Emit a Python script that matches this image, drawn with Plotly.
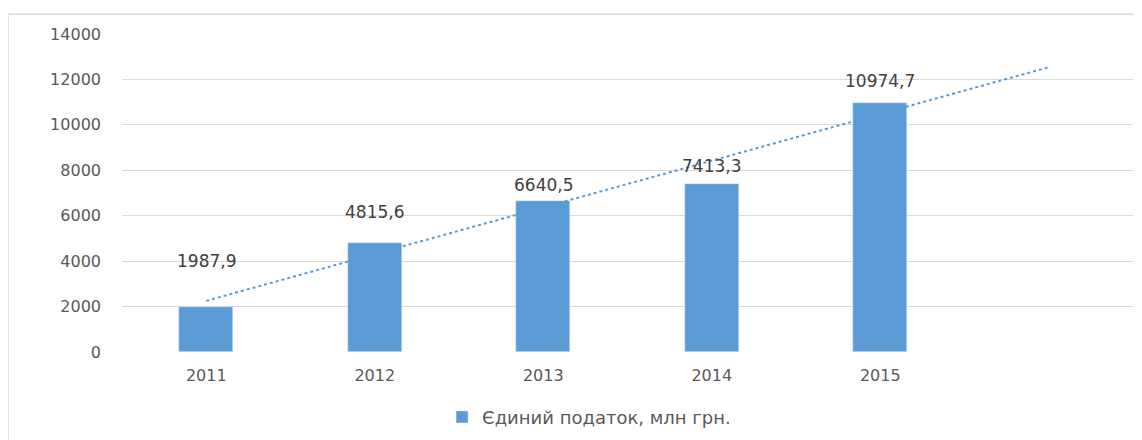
import numpy as np
import plotly.graph_objects as go

years = [2011, 2012, 2013, 2014, 2015]
values = [1987.9, 4815.6, 6640.5, 7413.3, 10974.7]
labels = ["1987,9", "4815,6", "6640,5", "7413,3", "10974,7"]
series_name = "Єдиний податок, млн грн."
y_ticks = [0, 2000, 4000, 6000, 8000, 10000, 12000, 14000]

# linear trend, forecast one period forward
coef = np.polyfit(years, values, 1)
trend_x = [years[0], years[-1] + 1]
trend_y = [float(np.polyval(coef, v)) for v in trend_x]

BLUE = "#5B9BD5"
label_shift = [46, 31, 16, 18, 22]

fig = go.Figure()
fig.add_trace(go.Bar(x=years, y=values, name=series_name, marker_color=BLUE,
                     width=0.32, showlegend=True))
fig.add_trace(go.Scatter(x=trend_x, y=trend_y, mode="lines", showlegend=False,
                         line=dict(color=BLUE, width=2, dash="dot"), hoverinfo="skip"))

for xv, yv, t, s in zip(years, values, labels, label_shift):
    fig.add_annotation(x=xv, y=yv, text=t, showarrow=False, yshift=s,
                       font=dict(size=17, color="#404040"))

fig.add_shape(type="rect", xref="paper", yref="paper", x0=-0.1128, x1=1.05,
              y0=-0.6, y1=1.0623, line=dict(color="#d9d9d9", width=1.5), layer="below")

fig.update_layout(
    width=1142, height=440,
    margin=dict(l=114, r=17, t=26, b=89),
    plot_bgcolor="white", paper_bgcolor="white",
    font=dict(family="DejaVu Sans", size=16, color="#595959"),
    bargap=0,
    legend=dict(orientation="h", x=0.462, xanchor="center", y=-0.205, yanchor="middle",
                font=dict(size=18, color="#595959")),
    xaxis=dict(range=[2010.5, 2016.5], tickvals=years, ticktext=[str(v) for v in years],
               showgrid=False, zeroline=False, showline=False, ticklabelstandoff=12,
               tickfont=dict(size=16)),
    yaxis=dict(range=[0, 14000], tickvals=y_ticks, ticktext=[str(v) for v in y_ticks],
               showgrid=True, gridcolor="#d9d9d9",
               gridwidth=1, zeroline=False, showline=False, ticklabelstandoff=20,
               tickfont=dict(size=16)),
)

fig.write_html("out.html")
